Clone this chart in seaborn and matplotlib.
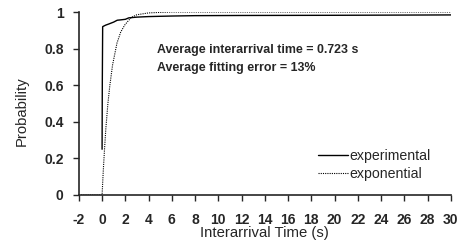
import matplotlib
matplotlib.use("Agg")
import matplotlib.pyplot as plt
import seaborn as sns
import pandas as pd

sns.set_style("ticks")
plt.rcParams["font.family"] = ["Liberation Sans", "DejaVu Sans"]
plt.rcParams["axes.unicode_minus"] = False

# ------------------------------------------------------------
# Data (CDF of interarrival time)
# ------------------------------------------------------------
exp_time = [0.0, 0.02, 0.05, 0.3, 0.6, 1.0, 1.3, 1.6, 2.0, 2.3, 3.0, 4.0, 6.0, 8.0, 12.0, 20.0, 30.0]
exp_prob = [0.25, 0.62, 0.92, 0.928, 0.935, 0.945, 0.955, 0.957, 0.96, 0.968, 0.972, 0.975, 0.978, 0.98, 0.981, 0.982, 0.984]

fit_time = [-2.0, 0.0, 0.1, 0.2, 0.32, 0.5, 0.67, 0.9, 1.28, 1.6, 1.96, 2.5, 3.0, 4.0, 5.0, 6.0, 30.0]
fit_prob = [0.0, 0.0, 0.13, 0.24, 0.36, 0.5, 0.6, 0.71, 0.83, 0.89, 0.93, 0.97, 0.985, 0.995, 0.998, 1.0, 1.0]

x_ticks = list(range(-2, 31, 2))
y_ticks = [0, 0.2, 0.4, 0.6, 0.8, 1]
y_tick_labels = ["0", "0.2", "0.4", "0.6", "0.8", "1"]

df = pd.concat([
    pd.DataFrame({"t": exp_time, "p": exp_prob, "series": "experimental"}),
    pd.DataFrame({"t": fit_time, "p": fit_prob, "series": "exponential"}),
])

fig = plt.figure(figsize=(4.61, 2.40), dpi=100)
ax = fig.add_axes([0.171, 0.1875, 0.807, 0.7625])

sns.lineplot(data=df, x="t", y="p", hue="series", style="series",
             palette={"experimental": "black", "exponential": "black"},
             dashes={"experimental": "", "exponential": (1, 1)},
             sort=False, estimator=None, ax=ax)
for line in ax.lines:
    if line.get_linestyle() != "-":
        line.set_linewidth(0.8)
    else:
        line.set_linewidth(1.0)

ax.set_xlim(-2, 30)
ax.set_ylim(0, 1)
ax.set_xticks(x_ticks)
ax.set_yticks(y_ticks)
ax.set_yticklabels(y_tick_labels)
ax.tick_params(axis="both", direction="out", length=4, width=1, labelsize=10)
ax.tick_params(axis="x", pad=9)
ax.tick_params(axis="y", pad=7)
for lab in ax.get_xticklabels() + ax.get_yticklabels():
    lab.set_fontweight("bold")
ax.set_xlabel("Interarrival Time (s)", fontsize=10.7, labelpad=-1)
ax.set_ylabel("Probability", fontsize=10.7)
ax.yaxis.set_label_coords(-0.135, 0.46)
sns.despine(ax=ax)
for sp in ["left", "bottom"]:
    ax.spines[sp].set_linewidth(1.2)

ax.text(0.21, 0.792, "Average interarrival time = 0.723 s", transform=ax.transAxes,
        fontsize=8.9, fontweight="bold", va="center")
ax.text(0.21, 0.694, "Average fitting error = 13%", transform=ax.transAxes,
        fontsize=8.9, fontweight="bold", va="center")

leg = ax.legend(loc="upper left", bbox_to_anchor=(0.6425, 0.25), frameon=False,
                fontsize=10.2, handlelength=2.1, handletextpad=0.1, labelspacing=0.28,
                borderpad=0, borderaxespad=0, title=None)
for h in leg.get_lines():
    h.set_color("black")

fig.savefig("out.png", dpi=100)
